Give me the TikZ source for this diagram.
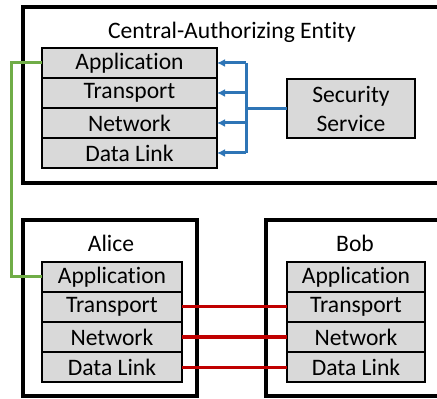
\documentclass[tikz,border=0pt]{standalone}
\usepackage{fontspec}
\setmainfont[Ligatures={NoCommon,NoRare,NoContextual}]{Carlito}
\usepackage{tikz}
\usetikzlibrary{positioning}
\usetikzlibrary{calc}
\usetikzlibrary{arrows.meta}

\definecolor{layergray}{HTML}{D9D9D9}
\definecolor{busblue}{HTML}{2E75B6}
\definecolor{linkred}{HTML}{C00000}
\definecolor{appgreen}{HTML}{70AD47}

\begin{document}
\begin{tikzpicture}[x=0.5pt, y=-0.5pt,
    every node/.style={font=\fontsize{11.8}{14.5}\selectfont},
    entity/.style={draw, line width=1.6pt},
    layer/.style={draw, line width=0.8pt, fill=layergray, minimum height=15pt, inner sep=0pt, outer sep=0pt},
    bus/.style={draw=busblue, line width=1.5pt},
    link/.style={draw=linkred, line width=1.5pt},
    appline/.style={draw=appgreen, line width=1.5pt}]
    \useasboundingbox (0,0) rectangle (437,399);
    \clip (0,0) rectangle (437,399);

    % entity boxes
    \draw[entity] (23,7) rectangle (460,183);
    \draw[entity] (23,220) rectangle (197,396);
    \draw[entity] (266,220) rectangle (460,396);

    \node (ctitle) at (232,32) {Central-Authorizing Entity};
    \node (atitle) at (111,243) {Alice};
    \node (btitle) at (355,243) {Bob};

    % central stack
    \node [layer, minimum width=87.5pt] (capp) at (129.5,63) {Application};
    \node [layer, minimum width=87.5pt, below=0pt of capp] (ctrans) {Transport};
    \node [layer, minimum width=87.5pt, below=0pt of ctrans] (cnet) {Network};
    \node [layer, minimum width=87.5pt, below=0pt of cnet] (clink) {Data Link};

    \node [layer, minimum width=64pt, minimum height=29.5pt, align=center] (sec) at (351,108.5) {Security\\Service};

    % alice stack
    \node [layer, minimum width=70pt] (aapp) at (112,277) {Application};
    \node [layer, minimum width=70pt, below=0pt of aapp] (atrans) {Transport};
    \node [layer, minimum width=70pt, below=0pt of atrans] (anet) {Network};
    \node [layer, minimum width=70pt, below=0pt of anet] (alink) {Data Link};

    % bob stack
    \node [layer, minimum width=69pt] (bapp) at (356,277) {Application};
    \node [layer, minimum width=69pt, below=0pt of bapp] (btrans) {Transport};
    \node [layer, minimum width=69pt, below=0pt of btrans] (bnet) {Network};
    \node [layer, minimum width=69pt, below=0pt of bnet] (blink) {Data Link};

    % security service feeds every layer
    \coordinate (cbus) at (246,108);
    \draw[bus] (sec.west) -- (sec.west -| cbus);
    \draw[bus] (cbus |- capp.east) -- (cbus |- clink.east);
    \foreach \n in {capp,ctrans,cnet,clink}
        \draw[bus, -{Latex[length=4pt, width=4pt]}] (cbus |- \n.east) -- (\n.east);

    \draw[appline] (capp.west) -- ++(-31,0) |- (aapp.west);

    \foreach \n in {trans,net,link}
        \draw[link] (a\n.east) -- (b\n.west);
\end{tikzpicture}
\end{document}
